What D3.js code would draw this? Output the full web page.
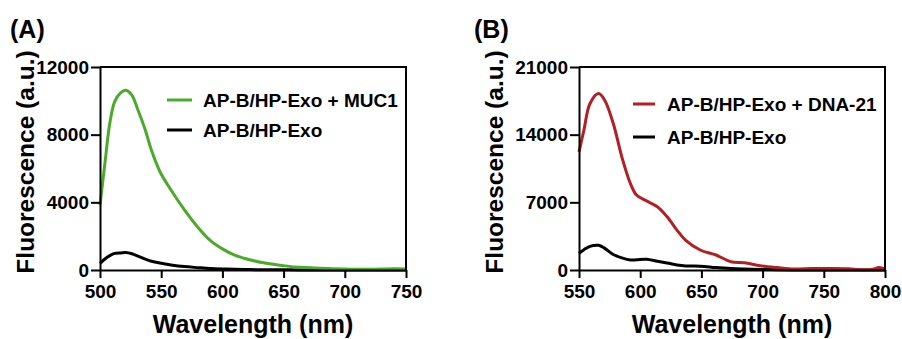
<!DOCTYPE html>
<html>
<head>
<meta charset="utf-8">
<script src="https://cdn.jsdelivr.net/npm/d3@7"></script>
<style>
  body { margin: 0; background: #fff; }
  svg { display: block; font-family: "Liberation Sans", Arial, sans-serif; font-weight: bold; }
</style>
</head>
<body>
<div id="chart"></div>
<script>
// panel A: wavelength grid and readings
var wlA = [500, 504, 508, 512, 517, 521, 526, 531, 537, 542, 549, 558, 569, 580, 590, 600, 610, 623, 636, 650, 663, 690, 717, 740, 750];
var muc1A = [3840, 6300, 8670, 9950, 10480, 10620, 10340, 9460, 8280, 7090, 5810, 4730, 3550, 2520, 1750, 1250, 880, 590, 395, 256, 158, 80, 40, 80, 60];
var blankA = [395, 650, 850, 980, 1010, 1030, 960, 820, 640, 520, 410, 300, 200, 140, 90, 60, 40, 25, 15, 10, 5, 5, 5, 5, 5];
var yTicksA = [0, 4000, 8000, 12000];
var xTicksA = [500, 550, 600, 650, 700, 750];

// panel B
var wlB = [550, 554, 559, 566, 571, 578, 585, 592, 597, 605, 614, 622, 630, 637, 649, 662, 674, 685, 698, 712, 726, 740, 755, 770, 780, 790, 795, 800];
var dnaB = [12220, 14460, 17220, 18250, 17560, 15150, 11700, 8950, 7750, 7160, 6540, 5500, 4130, 3100, 2070, 1550, 860, 760, 450, 250, 100, 150, 150, 120, 20, 80, 250, 100];
var blankB = [1720, 2100, 2450, 2550, 2240, 1600, 1250, 1030, 1050, 1100, 900, 720, 520, 420, 400, 250, 150, 100, 60, 30, 10, 5, 0, 0, 0, 0, 0, 0];
var yTicksB = [0, 7000, 14000, 21000];
var xTicksB = [550, 600, 650, 700, 750, 800];

var W = 902, H = 339;
var svg = d3.select("#chart").append("svg")
  .attr("width", W)
  .attr("height", H);

function drawPanel(opts) {
  var x = d3.scaleLinear().domain(opts.xDomain).range([opts.left, opts.right]);
  var y = d3.scaleLinear().domain(opts.yDomain).range([270, 67]);
  var g = svg.append("g");

  var line = d3.line()
    .x(function(d) { return x(d[0]); })
    .y(function(d) { return y(d[1]); })
    .curve(d3.curveCatmullRom.alpha(0.5));

  // series (black first so coloured one sits above)
  opts.series.slice().reverse().forEach(function(s) {
    g.append("path")
      .datum(opts.wl.map(function(w, i) { return [w, s.values[i]]; }))
      .attr("fill", "none")
      .attr("stroke", s.color)
      .attr("stroke-width", 3)
      .attr("stroke-linejoin", "round")
      .attr("d", line);
  });

  // frame top/right
  g.append("path")
    .attr("d", "M" + opts.left + "," + y.range()[1] + "H" + opts.right + "V" + y.range()[0])
    .attr("fill", "none")
    .attr("stroke", "#000")
    .attr("stroke-width", 2);

  var xAxis = g.append("g")
    .attr("transform", "translate(0,270)")
    .call(d3.axisBottom(x).tickValues(opts.xTicks).tickFormat(d3.format("d"))
      .tickSize(8).tickPadding(7).tickSizeOuter(0));
  var yAxis = g.append("g")
    .attr("transform", "translate(" + opts.left + ",0)")
    .call(d3.axisLeft(y).tickValues(opts.yTicks).tickFormat(d3.format("d"))
      .tickSize(9).tickPadding(2).tickSizeOuter(0));

  [xAxis, yAxis].forEach(function(a) {
    a.selectAll(".domain").attr("stroke", "#000").attr("stroke-width", 2);
    a.selectAll(".tick line").attr("stroke", "#000").attr("stroke-width", 2);
    a.selectAll(".tick text")
      .attr("fill", "#000")
      .style("font-size", "19px")
      .style("font-weight", "bold")
      .style("font-family", "Liberation Sans, Arial, sans-serif");
  });

  g.append("text")
    .attr("x", (opts.left + opts.right) / 2)
    .attr("y", 333)
    .attr("text-anchor", "middle")
    .style("font-size", "25px")
    .text("Wavelength (nm)");

  g.append("text")
    .attr("transform", "translate(" + opts.ytitleX + ",162) rotate(-90)")
    .attr("text-anchor", "middle")
    .style("font-size", "24.5px")
    .text("Fluorescence (a.u.)");

  g.append("text")
    .attr("x", opts.labelX)
    .attr("y", 38)
    .style("font-size", "25px")
    .text(opts.label);

  opts.series.forEach(function(s, i) {
    var ly = opts.legY[i];
    g.append("line")
      .attr("x1", opts.legX[0]).attr("x2", opts.legX[1])
      .attr("y1", ly).attr("y2", ly)
      .attr("stroke", s.color)
      .attr("stroke-width", 3);
    g.append("text")
      .attr("x", opts.legX[2])
      .attr("y", ly)
      .attr("dy", "0.35em")
      .style("font-size", "19px")
      .text(s.name);
  });
}

drawPanel({
  label: "(A)", labelX: 10, ytitleX: 34,
  left: 100, right: 406,
  xDomain: [500, 750], yDomain: [0, 12000],
  xTicks: xTicksA, yTicks: yTicksA,
  wl: wlA,
  series: [
    { name: "AP-B/HP-Exo + MUC1", color: "#4caa2a", values: muc1A },
    { name: "AP-B/HP-Exo", color: "#000", values: blankA }
  ],
  legX: [167, 192, 203], legY: [100, 130]
});

drawPanel({
  label: "(B)", labelX: 474, ytitleX: 503,
  left: 579, right: 885,
  xDomain: [550, 800], yDomain: [0, 21000],
  xTicks: xTicksB, yTicks: yTicksB,
  wl: wlB,
  series: [
    { name: "AP-B/HP-Exo + DNA-21", color: "#b21f24", values: dnaB },
    { name: "AP-B/HP-Exo", color: "#000", values: blankB }
  ],
  legX: [633, 655, 667], legY: [104, 137]
});
</script>
</body>
</html>
